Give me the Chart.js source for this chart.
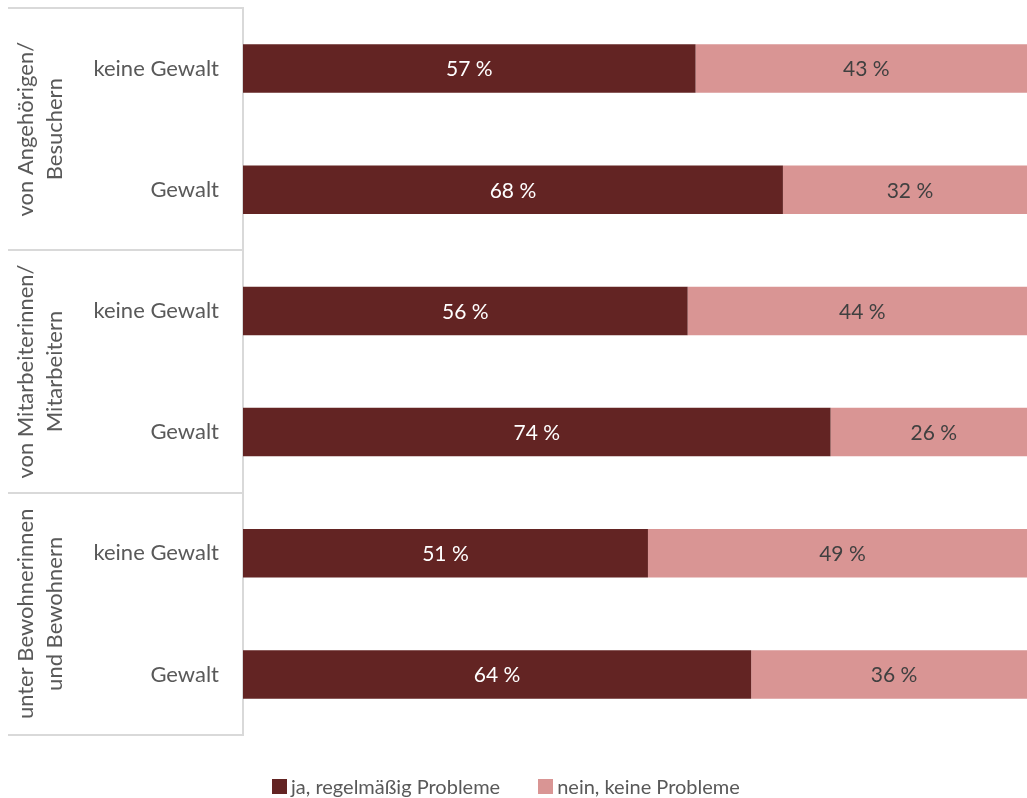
<!DOCTYPE html>
<html lang="de">
<head>
<meta charset="utf-8">
<title>Probleme nach Gewalterfahrung</title>
<script src="https://cdn.jsdelivr.net/npm/chart.js@4.4.1/dist/chart.umd.min.js"></script>
<style>
  html, body { margin: 0; padding: 0; background: #fff; overflow: hidden; }
  .wrap { position: relative; width: 1037px; height: 798px; }
  canvas { display: block; }
  #legend {
    position: absolute; left: 272px; top: 774px;
    display: flex; align-items: center;
    font: 20px Lato, "Open Sans", sans-serif; color: #595959;
  }
  #legend .item { display: flex; align-items: center; margin-right: 38px; white-space: nowrap; }
  #legend .box { width: 15px; height: 15px; margin-right: 4px; }
</style>
</head>
<body>
<div class="wrap">
  <canvas id="chart" width="1037" height="798"></canvas>
  <div id="legend"></div>
</div>
<script>
const subLabels = ["keine Gewalt", "Gewalt", "keine Gewalt", "Gewalt", "keine Gewalt", "Gewalt"];
const groupLabels = [
    ["von Angehörigen/", "Besuchern"],
    ["von Mitarbeiterinnen/", "Mitarbeitern"],
    ["unter Bewohnerinnen", "und Bewohnern"]
];
const jaValues = [57, 68, 56, 74, 51, 64];
const neinValues = [43, 32, 44, 26, 49, 36];

const fontFamily = "Lato, 'Open Sans', sans-serif";
const lineColor = "#d9d9d9";

// percentage text in the middle of every segment
const segmentLabels = {
    id: "segmentLabels",
    afterDatasetsDraw(chart) {
        const ctx = chart.ctx;
        ctx.save();
        ctx.font = "21px " + fontFamily;
        ctx.textAlign = "center";
        ctx.textBaseline = "middle";
        chart.data.datasets.forEach((ds, di) => {
            const meta = chart.getDatasetMeta(di);
            ctx.fillStyle = di === 0 ? "#ffffff" : "#404040";
            meta.data.forEach((bar, i) => {
                const cx = (bar.x + bar.base) / 2;
                ctx.fillText(ds.data[i] + " %", cx, bar.y + 1);
            });
        });
        ctx.restore();
    }
};

// outer group labels (rotated) and the separator lines between groups
const groupAxis = {
    id: "groupAxis",
    afterDraw(chart) {
        const ctx = chart.ctx;
        const yScale = chart.scales.y;
        const right = yScale.right;
        ctx.save();
        ctx.strokeStyle = lineColor;
        ctx.lineWidth = 2;
        for (let g = 0; g <= groupLabels.length; g++) {
            const yy = Math.round(yScale.getPixelForValue(g * 2 - 0.5));
            ctx.beginPath();
            ctx.moveTo(8, yy);
            ctx.lineTo(right, yy);
            ctx.stroke();
        }
        ctx.fillStyle = "#595959";
        ctx.font = "22px " + fontFamily;
        ctx.textAlign = "center";
        ctx.textBaseline = "middle";
        groupLabels.forEach((lines, g) => {
            const top = yScale.getPixelForValue(g * 2 - 0.5);
            const bottom = yScale.getPixelForValue(g * 2 + 1.5);
            const cy = (top + bottom) / 2;
            lines.forEach((text, li) => {
                ctx.save();
                ctx.translate(26 + li * 29, cy);
                ctx.rotate(-Math.PI / 2);
                ctx.fillText(text, 0, 0);
                ctx.restore();
            });
        });
        ctx.restore();
    }
};

const chart = new Chart(document.getElementById("chart"), {
    type: "bar",
    data: {
        labels: subLabels,
        datasets: [
            {
                label: "ja, regelmäßig Probleme",
                data: jaValues,
                backgroundColor: "#632423",
                barPercentage: 0.4,
                categoryPercentage: 1
            },
            {
                label: "nein, keine Probleme",
                data: neinValues,
                backgroundColor: "#d99594",
                barPercentage: 0.4,
                categoryPercentage: 1
            }
        ]
    },
    options: {
        indexAxis: "y",
        responsive: false,
        animation: false,
        devicePixelRatio: 1,
        layout: { padding: { left: 32, top: 8, right: 0, bottom: 0 } },
        scales: {
            x: {
                stacked: true,
                min: 0,
                max: 100,
                grid: { display: false },
                border: { display: false },
                ticks: { display: false },
                afterFit: (scale) => { scale.height = 63; }
            },
            y: {
                stacked: true,
                grid: { display: false, drawTicks: false },
                border: { display: true, color: lineColor, width: 2 },
                ticks: {
                    color: "#595959",
                    padding: 24,
                    font: { family: fontFamily, size: 22 }
                },
                afterFit: (scale) => {
                    scale.width = 211;
                    scale.paddingTop = 0;
                    scale.paddingBottom = 0;
                }
            }
        },
        plugins: {
            tooltip: { enabled: false },
            legend: { display: false }
        }
    },
    plugins: [segmentLabels, groupAxis]
});

// legend below the chart, built from the datasets
const legendEl = document.getElementById("legend");
chart.data.datasets.forEach(ds => {
    const item = document.createElement("span");
    item.className = "item";
    item.innerHTML = `<span class="box" style="background:${ds.backgroundColor}"></span>${ds.label}`;
    legendEl.appendChild(item);
});
</script>
</body>
</html>
